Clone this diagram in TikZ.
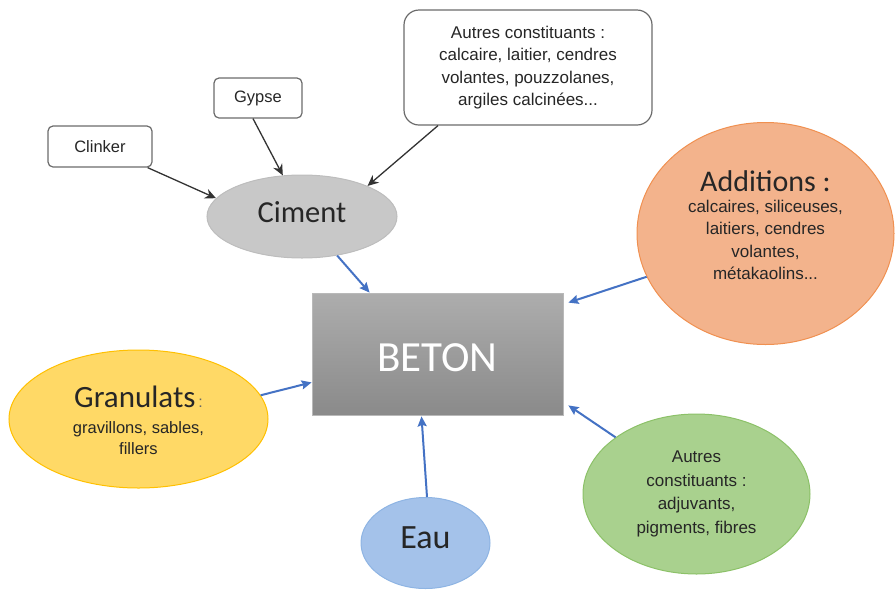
\documentclass[tikz,border=0pt]{standalone}
\usepackage{fontspec}
\setmainfont{Carlito}
\newfontfamily\smf{Liberation Sans}
\usetikzlibrary{shapes.geometric,arrows.meta}
\definecolor{txtc}{HTML}{262626}
\definecolor{boxline}{HTML}{6B6B6B}
\definecolor{cimfill}{HTML}{C8C8C8}
\definecolor{cimline}{HTML}{BDBDBD}
\definecolor{addfill}{HTML}{F3B38C}
\definecolor{addline}{HTML}{ED7D31}
\definecolor{granfill}{HTML}{FFD966}
\definecolor{granline}{HTML}{FFC000}
\definecolor{eaufill}{HTML}{A4C2EA}
\definecolor{eauline}{HTML}{8EB4E3}
\definecolor{vertfill}{HTML}{A9D18E}
\definecolor{vertline}{HTML}{8CC168}
\definecolor{bleu}{HTML}{4472C4}
\definecolor{betontop}{HTML}{ADADAD}
\definecolor{betonbot}{HTML}{8A8A8A}
\tikzset{
  smallbox/.style={draw=boxline, line width=1.2pt, rounded corners=5pt, fill=white, inner sep=0pt},
  blob/.style={ellipse, inner sep=0pt, line width=1pt},
  txt/.style={text=txtc, align=center, inner sep=0pt, font=\smf\fontsize{17}{22.5}\selectfont},
  bigtxt/.style={text=txtc, align=center, inner sep=0pt},
  blackarrow/.style={draw=black!80, line width=1.3pt, -{Stealth[length=11pt,width=10pt]}},
  bluearrow/.style={draw=bleu, line width=2pt, -{Stealth[length=10pt,width=9pt,inset=1.5pt]}}
}
\begin{document}
\begin{tikzpicture}[x=1pt,y=-1pt]
\useasboundingbox (0,0) rectangle (895,590);
% small boxes
\node[smallbox, minimum width=104pt, minimum height=41pt] (clinker) at (100,146.5) {};
\node[txt, font=\smf\fontsize{16.5}{18}\selectfont] at (clinker.center) {Clinker};
\node[smallbox, minimum width=88pt, minimum height=40pt] (gypse) at (258,98) {};
\node[txt, font=\smf\fontsize{16.5}{18}\selectfont] at (gypse.center) {Gypse};
\node[smallbox, rounded corners=15pt, minimum width=248pt, minimum height=115pt] (autres) at (528,67.5) {};
\node[txt] at (autres.center) {Autres constituants :\\calcaire, laitier, cendres\\volantes, pouzzolanes,\\argiles calcinées...};
% ciment
\node[blob, fill=cimfill, draw=cimline, minimum width=190pt, minimum height=83pt] (ciment) at (302,216.5) {};
\node[bigtxt, font=\fontsize{30.5}{32}\selectfont] at ([yshift=4.5pt]ciment.center) {Ciment};
% beton
\node[draw=betontop!85, line width=0.8pt, top color=betontop, bottom color=betonbot, minimum width=251pt, minimum height=122pt, inner sep=0pt] (beton) at (437.5,354) {};
\node[text=white, inner sep=0pt, font=\fontsize{43}{45}\selectfont] at ([yshift=-4pt]beton.center) {BETON};
% additions
\node[blob, fill=addfill, draw=addline!85, minimum width=257pt, minimum height=222pt] (add) at (765.5,233.5) {};
\node[txt] at ([yshift=8pt]add.center) {{\rmfamily\fontsize{30}{32}\selectfont Additions :}\\[-2pt]calcaires, siliceuses,\\laitiers, cendres\\volantes,\\métakaolins...};
% granulats
\node[blob, fill=granfill, draw=granline, minimum width=259pt, minimum height=138pt] (gran) at (138.5,419) {};
\node[txt, font=\smf\fontsize{16.5}{21}\selectfont] at ([yshift=-1.5pt]gran.center) {{\rmfamily\fontsize{31}{32}\selectfont Granulats}\,{\color{txtc!70}\fontsize{16}{16}\selectfont:}\\[5pt]gravillons, sables,\\fillers};
% eau
\node[blob, fill=eaufill, draw=eauline, minimum width=129pt, minimum height=91pt] (eau) at (425.5,543) {};
\node[bigtxt, font=\fontsize{34}{36}\selectfont] at ([yshift=5pt]eau.center) {Eau};
% autres (vert)
\node[blob, fill=vertfill, draw=vertline, minimum width=227pt, minimum height=160pt] (vert) at (696.5,494) {};
\node[txt, font=\smf\fontsize{17}{23.5}\selectfont] at (vert.center) {Autres\\constituants :\\adjuvants,\\pigments, fibres};
% black arrows
\draw[blackarrow] ([xshift=-5pt]clinker.south east) -- (ciment.168);
\draw[blackarrow] ([xshift=-5pt]gypse.south) -- (ciment.115);
\draw[blackarrow] ([xshift=-90pt]autres.south) -- (ciment.25);
% blue arrows
\draw[bluearrow] (ciment.-48) -- ([xshift=58pt]beton.north west);
\draw[bluearrow] (add.200) -- ([xshift=5pt,yshift=-10pt]beton.north east);
\draw[bluearrow] (gran.11) -- ([yshift=33pt]beton.south west);
\draw[bluearrow] ([xshift=1.5pt]eau.north) -- ([xshift=-16pt,yshift=-1pt]beton.south);
\draw[bluearrow] (vert.145) -- ([xshift=5pt,yshift=10pt]beton.south east);
\end{tikzpicture}
\end{document}
